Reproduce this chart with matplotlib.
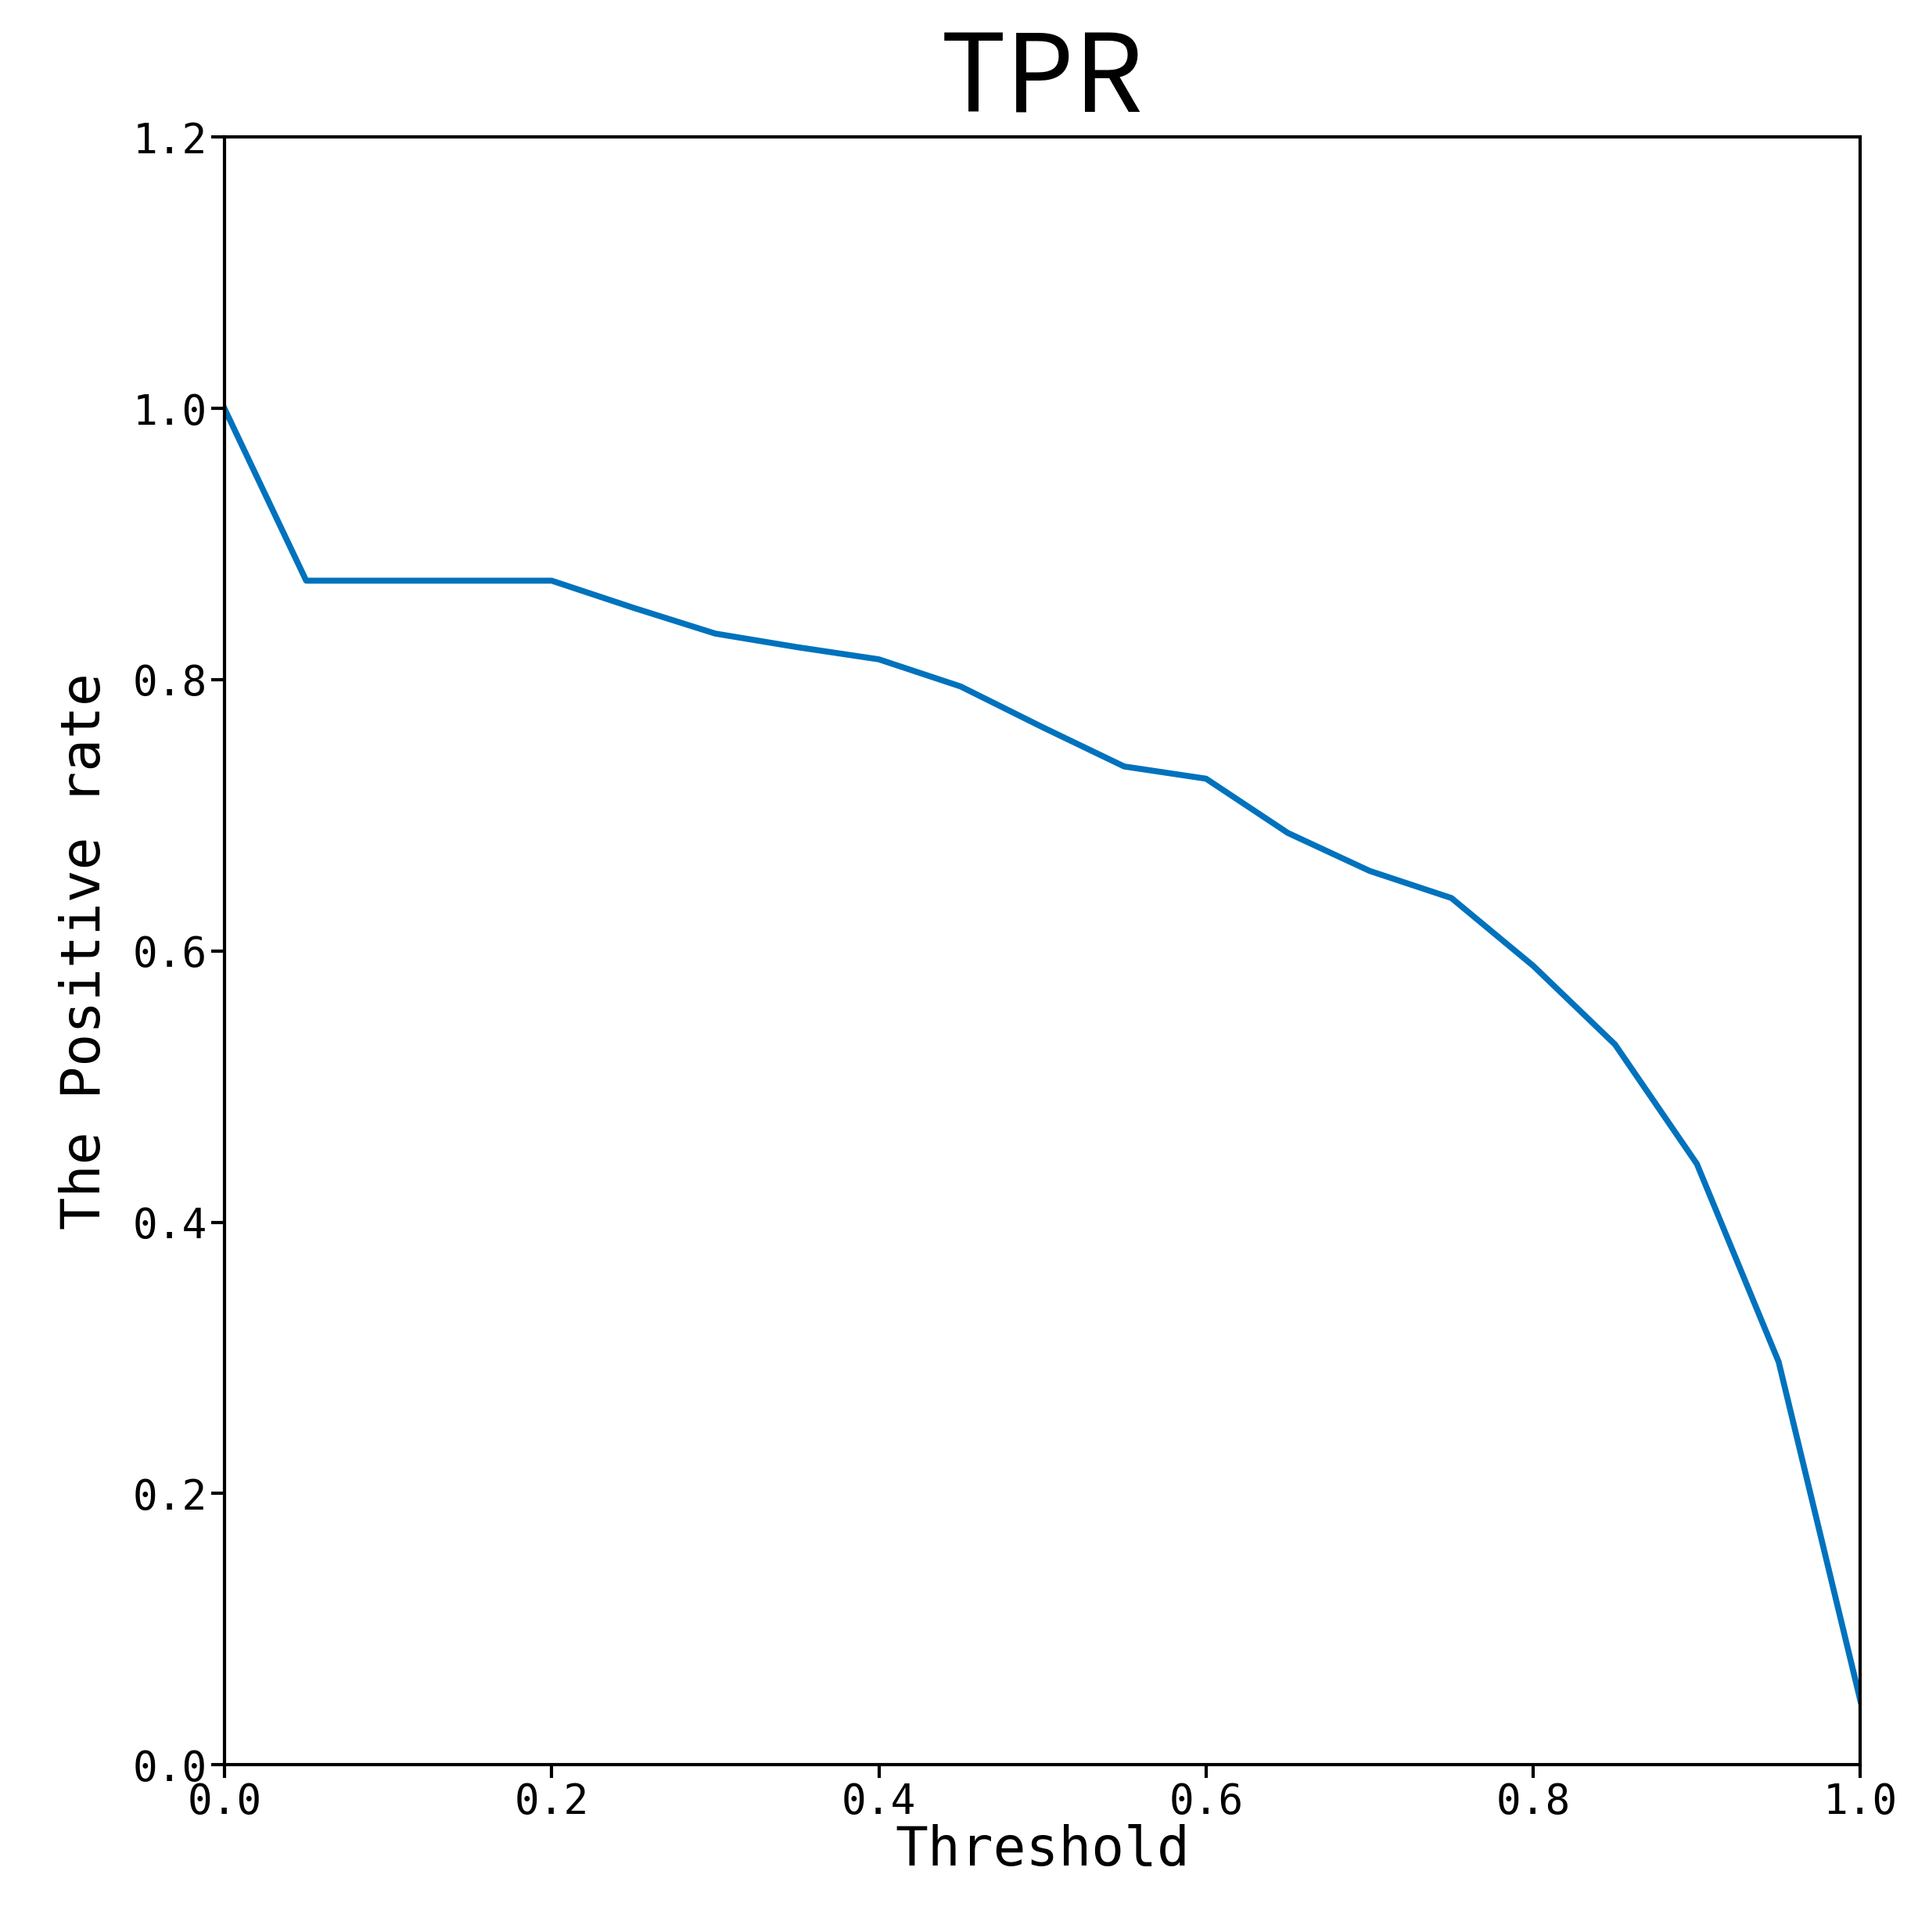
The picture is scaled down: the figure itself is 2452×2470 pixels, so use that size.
import matplotlib
matplotlib.use('Agg')
import matplotlib.pyplot as plt

plt.rcParams['font.family'] = ['Noto Sans CJK SC', 'DejaVu Sans']

# threshold values and true positive rate
thresholds = [0.0, 0.05, 0.1, 0.15, 0.2, 0.25, 0.3, 0.35, 0.4, 0.45, 0.5,
              0.55, 0.6, 0.65, 0.7, 0.75, 0.8, 0.85, 0.9, 0.95, 1.0]
tpr = [1.0, 0.873, 0.873, 0.873, 0.873, 0.853, 0.834, 0.824, 0.815, 0.795, 0.765,
       0.736, 0.727, 0.687, 0.659, 0.639, 0.589, 0.531, 0.443, 0.297, 0.047]

mono = 'DejaVu Sans Mono'

fig = plt.figure(figsize=(24.52, 24.70), dpi=100)
ax = fig.add_axes([0.117, 0.0866, 0.853, 0.8424])
ax.plot(thresholds, tpr, color='#0072BD', linewidth=5.5)

ax.set_xlim(0, 1)
ax.set_ylim(0, 1.2)
ax.set_xticks([0.0, 0.2, 0.4, 0.6, 0.8, 1.0])
ax.set_yticks([0.0, 0.2, 0.4, 0.6, 0.8, 1.0, 1.2])
ax.tick_params(labelsize=38, width=3, length=12)
for lbl in ax.get_xticklabels() + ax.get_yticklabels():
    lbl.set_family(mono)
for s in ax.spines.values():
    s.set_linewidth(3)

ax.set_title('TPR', fontsize=100, pad=20)
ax.set_xlabel('Threshold', fontsize=50, family=mono, labelpad=2)
ax.set_ylabel('The Positive rate', fontsize=50, family=mono, labelpad=20)

plt.savefig('out.png', dpi=100)
